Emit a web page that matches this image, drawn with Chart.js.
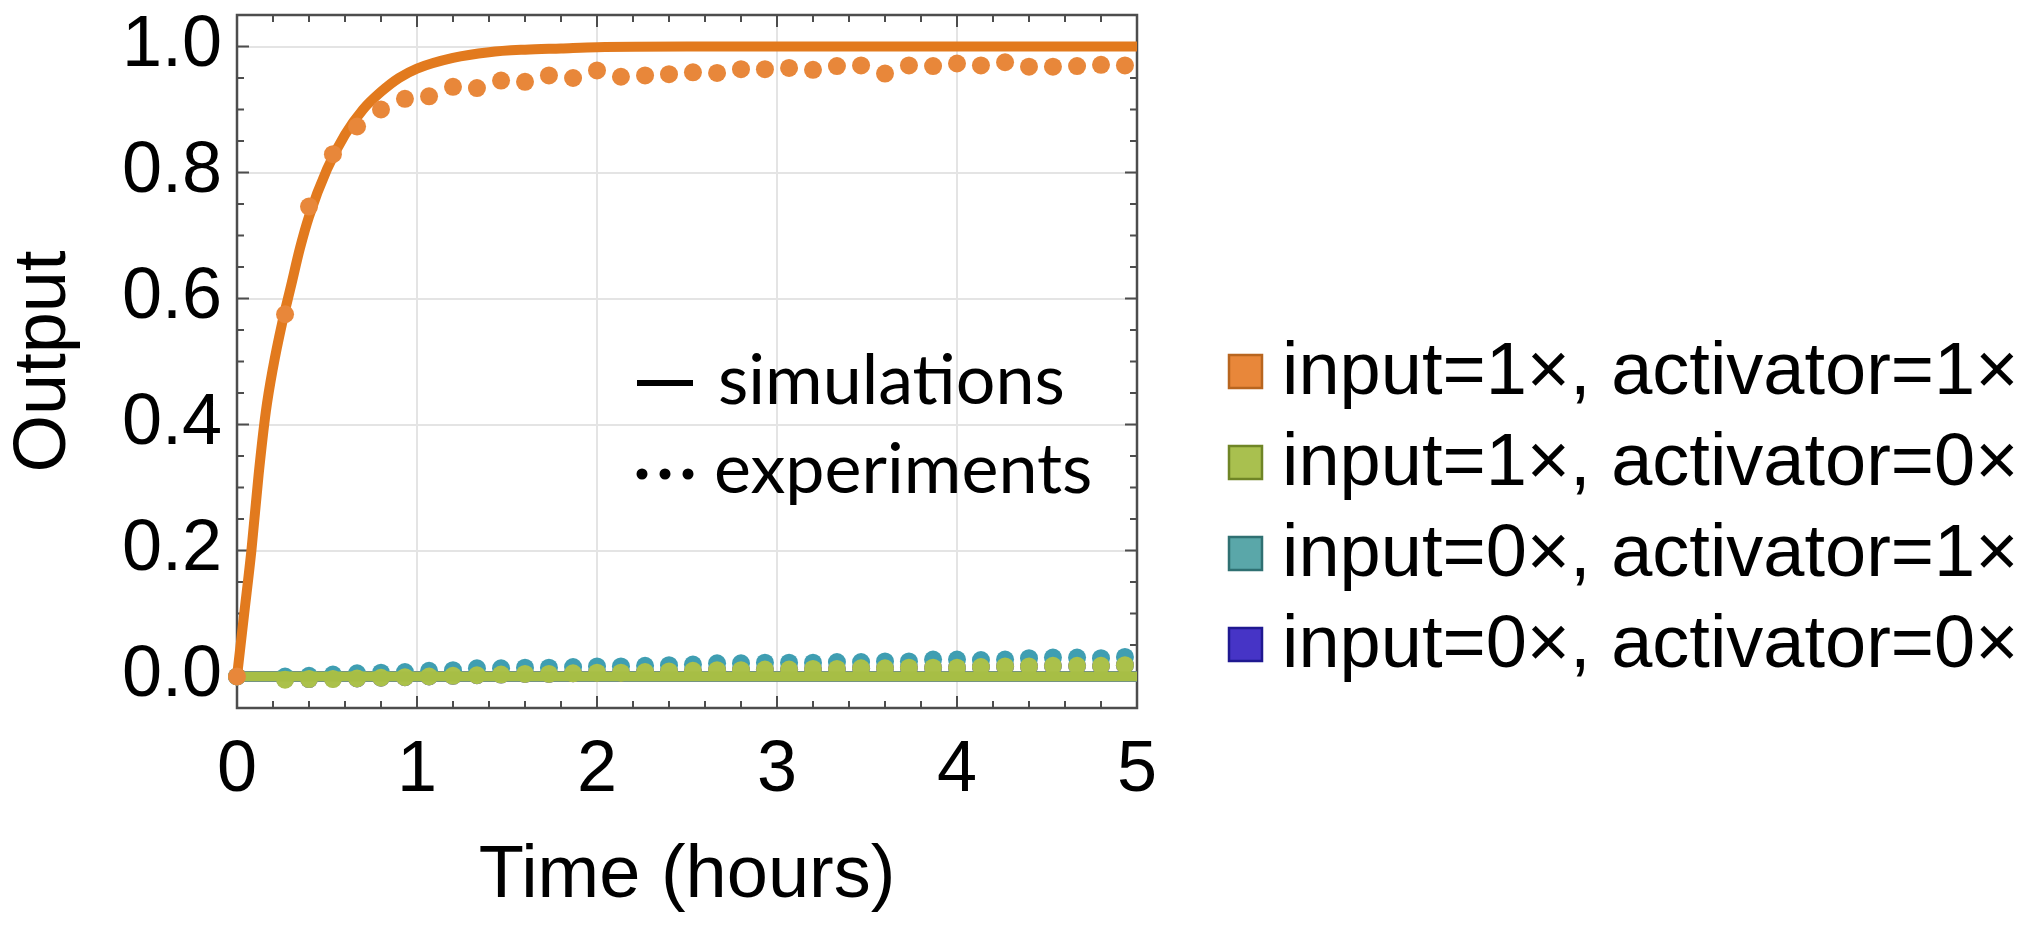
<!DOCTYPE html>
<html>
<head>
<meta charset="utf-8">
<script src="https://cdn.jsdelivr.net/npm/chart.js@4.4.1/dist/chart.umd.min.js"></script>
<style>
  html, body { margin: 0; padding: 0; background: #fff; }
  #wrap { width: 2040px; height: 935px; position: relative; }
</style>
</head>
<body>
<div id="wrap"><canvas id="chart"></canvas></div>
<script>
// simulation curves (hours, output)
const simTime   = [0, 0.04, 0.08, 0.12, 0.16, 0.2, 0.25, 0.3, 0.35, 0.4, 0.5, 0.6, 0.7, 0.8, 0.9, 1.0, 1.2, 1.4, 1.6, 1.8, 2.0, 2.5, 3, 4, 5];
const simOrange = [0, 0.10, 0.20, 0.32, 0.42, 0.49, 0.56, 0.62, 0.68, 0.73, 0.805, 0.86, 0.90, 0.928, 0.95, 0.965, 0.982, 0.991, 0.995, 0.997, 0.999, 1.0, 1.0, 1.0, 1.0];
const simFlat   = [0, 0, 0, 0, 0, 0, 0, 0, 0, 0, 0, 0, 0, 0, 0, 0, 0, 0, 0, 0, 0, 0, 0, 0, 0];

// experiment points
const expTime = [0, 0.267, 0.4, 0.533, 0.667, 0.8, 0.933, 1.067, 1.2, 1.333, 1.467, 1.6, 1.733, 1.867, 2.0, 2.133, 2.267, 2.4, 2.533,
  2.667, 2.8, 2.933, 3.067, 3.2, 3.333, 3.467, 3.6, 3.733, 3.867, 4.0, 4.133, 4.267, 4.4, 4.533, 4.667, 4.8, 4.933];
const expOrange = [0, 0.575, 0.746, 0.829, 0.873, 0.900, 0.917, 0.921, 0.936, 0.934, 0.946, 0.944, 0.954, 0.950, 0.962, 0.952, 0.954, 0.956, 0.959,
  0.958, 0.964, 0.964, 0.966, 0.963, 0.969, 0.970, 0.957, 0.970, 0.969, 0.973, 0.970, 0.975, 0.968, 0.968, 0.969, 0.971, 0.970];
const expGreen = [0, -0.005, -0.004, -0.004, -0.003, -0.002, -0.001, 0.0, 0.001, 0.002, 0.003, 0.004, 0.004, 0.005, 0.006, 0.006, 0.007, 0.008, 0.009,
  0.010, 0.010, 0.011, 0.011, 0.012, 0.012, 0.013, 0.013, 0.014, 0.014, 0.014, 0.015, 0.016, 0.016, 0.017, 0.017, 0.017, 0.018];
const expTeal = [0, 0.0, 0.001, 0.003, 0.005, 0.006, 0.007, 0.009, 0.010, 0.013, 0.013, 0.014, 0.014, 0.015, 0.016, 0.016, 0.017, 0.018,
  0.019, 0.021, 0.021, 0.022, 0.022, 0.022, 0.023, 0.023, 0.024, 0.024, 0.027, 0.027, 0.026, 0.027, 0.029, 0.030, 0.030, 0.029, 0.031];
// hidden behind the green dots in the picture
const expBlue = [0, -0.004, -0.004, -0.003, -0.003, -0.002, -0.001, 0.0, 0.001, 0.002, 0.003, 0.004, 0.004, 0.005, 0.006, 0.006, 0.007, 0.008, 0.009,
  0.010, 0.010, 0.011, 0.011, 0.012, 0.012, 0.013, 0.013, 0.014, 0.014, 0.014, 0.015, 0.016, 0.016, 0.017, 0.017, 0.017, 0.018];

const xTicks = [0, 1, 2, 3, 4, 5];
const yTicks = [0, 0.2, 0.4, 0.6, 0.8, 1.0];

const legendLabels = ['input=1\u00d7, activator=1\u00d7', 'input=1\u00d7, activator=0\u00d7', 'input=0\u00d7, activator=1\u00d7', 'input=0\u00d7, activator=0\u00d7'];
const legendFill = ['#e8873a', '#a9c04f', '#5aa7a9', '#4634c6'];
const legendEdge = ['#b8651f', '#6f8526', '#2f7072', '#1f1890'];
const keyLabels = ['simulations', 'experiments'];

const ORANGE = '#e27a1e', ORANGE_DOT = '#e8873a';
const GREEN = '#a7be45', TEAL = '#3f9eb2', BLUE = '#4433c8';
const FONT = '"Liberation Sans", Arial, sans-serif';

function pts(xs, ys) {
  return xs.map((x, i) => ({x: x, y: ys[i]}));
}

// frame and inward ticks on all four sides
const framePlugin = {
  id: 'frame',
  beforeDatasetsDraw(chart) {
    const {ctx, chartArea: a, scales: {x, y}} = chart;
    ctx.save();
    ctx.strokeStyle = '#4d4d4d';
    ctx.lineWidth = 2;
    ctx.beginPath();
    for (let i = 0; i <= 25; i++) {
      const px = x.getPixelForValue(i * 0.2);
      const len = i % 5 === 0 ? 12 : 7;
      ctx.moveTo(px, a.bottom); ctx.lineTo(px, a.bottom - len);
      ctx.moveTo(px, a.top); ctx.lineTo(px, a.top + len);
    }
    for (let i = 0; i <= 20; i++) {
      const py = y.getPixelForValue(i * 0.05);
      const len = i % 4 === 0 ? 12 : 7;
      ctx.moveTo(a.left, py); ctx.lineTo(a.left + len, py);
      ctx.moveTo(a.right, py); ctx.lineTo(a.right - len, py);
    }
    ctx.stroke();
    ctx.lineWidth = 2.5;
    ctx.strokeRect(a.left, a.top, a.right - a.left, a.bottom - a.top);
    ctx.restore();
  }
};

// inner key and right-hand legend
const keyPlugin = {
  id: 'keys',
  afterDraw(chart) {
    const {ctx, chartArea: a} = chart;
    ctx.save();
    // inner key
    ctx.fillStyle = '#000';
    ctx.strokeStyle = '#000';
    ctx.lineWidth = 6;
    ctx.beginPath();
    ctx.moveTo(a.left + 400, 383); ctx.lineTo(a.left + 456, 383);
    ctx.stroke();
    [405, 428, 451].forEach(dx => {
      ctx.beginPath(); ctx.arc(a.left + dx, 474, 5.5, 0, Math.PI * 2); ctx.fill();
    });
    ctx.font = '70px Lato, "Open Sans", sans-serif';
    ctx.textBaseline = 'alphabetic';
    ctx.fillText(keyLabels[0], a.left + 481, 404);
    ctx.fillText(keyLabels[1], a.left + 477, 493);

    // right legend
    ctx.font = '74px ' + FONT;
    ctx.textBaseline = 'middle';
    legendLabels.forEach((t, i) => {
      const cy = 371 + i * 91;
      ctx.fillStyle = legendFill[i];
      ctx.fillRect(1229, cy - 16, 33, 33);
      ctx.strokeStyle = legendEdge[i];
      ctx.lineWidth = 2.5;
      ctx.strokeRect(1229, cy - 16, 33, 33);
      ctx.fillStyle = '#000';
      ctx.fillText(t, 1282, cy + 3);
    });
    ctx.restore();
  }
};

const dotStyle = {pointRadius: 9, pointBorderWidth: 0, pointHoverRadius: 9, showLine: false, clip: false};
const lineStyle = {showLine: true, pointRadius: 0, pointHoverRadius: 0, borderWidth: 10, cubicInterpolationMode: 'monotone', clip: false};

new Chart(document.getElementById('chart'), {
  type: 'scatter',
  data: {
    datasets: [
      Object.assign({label: 'exp 1/1', data: pts(expTime, expOrange), backgroundColor: ORANGE_DOT, order: 0}, dotStyle),
      Object.assign({label: 'sim 1/1', data: pts(simTime, simOrange), borderColor: ORANGE, order: 1}, lineStyle),
      Object.assign({label: 'sim 1/0', data: pts(simTime, simFlat), borderColor: GREEN, order: 2}, lineStyle),
      Object.assign({label: 'exp 1/0', data: pts(expTime, expGreen), backgroundColor: '#abc14a', order: 3}, dotStyle),
      Object.assign({label: 'exp 0/1', data: pts(expTime, expTeal), backgroundColor: TEAL, order: 4}, dotStyle),
      Object.assign({label: 'exp 0/0', data: pts(expTime, expBlue), backgroundColor: BLUE, order: 5}, dotStyle),
      Object.assign({label: 'sim 0/1', data: pts(simTime, simFlat), borderColor: TEAL, order: 6}, lineStyle),
      Object.assign({label: 'sim 0/0', data: pts(simTime, simFlat), borderColor: BLUE, order: 7}, lineStyle, {borderWidth: 11})
    ]
  },
  options: {
    responsive: true,
    maintainAspectRatio: false,
    animation: false,
    layout: {padding: {top: 15, right: 903, left: 0, bottom: 0}},
    plugins: {legend: {display: false}, tooltip: {enabled: false}},
    scales: {
      x: {
        type: 'linear', min: 0, max: 5,
        afterBuildTicks: s => { s.ticks = xTicks.map(v => ({value: v})); },
        afterFit: s => { s.height = 227; s.paddingLeft = 0; s.paddingRight = 0; },
        grid: {color: '#e4e4e4', lineWidth: 2, drawTicks: false},
        border: {display: false},
        ticks: {padding: 20, color: '#000', maxRotation: 0, font: {family: FONT, size: 72}, callback: v => String(v)},
        title: {display: true, text: 'Time (hours)', color: '#000', font: {family: FONT, size: 74}, padding: {top: 0, bottom: 14}}
      },
      y: {
        type: 'linear', min: -0.05, max: 1.05,
        afterBuildTicks: s => { s.ticks = yTicks.map(v => ({value: v})); },
        afterFit: s => { s.width = 237; s.paddingTop = 0; s.paddingBottom = 0; },
        grid: {color: '#e4e4e4', lineWidth: 2, drawTicks: false},
        border: {display: false},
        ticks: {padding: 15, color: '#000', font: {family: FONT, size: 72}, callback: v => v.toFixed(1)},
        title: {display: true, text: 'Output', color: '#000', font: {family: FONT, size: 74}, padding: {top: 0, bottom: 0}}
      }
    }
  },
  plugins: [framePlugin, keyPlugin]
});
</script>
</body>
</html>
